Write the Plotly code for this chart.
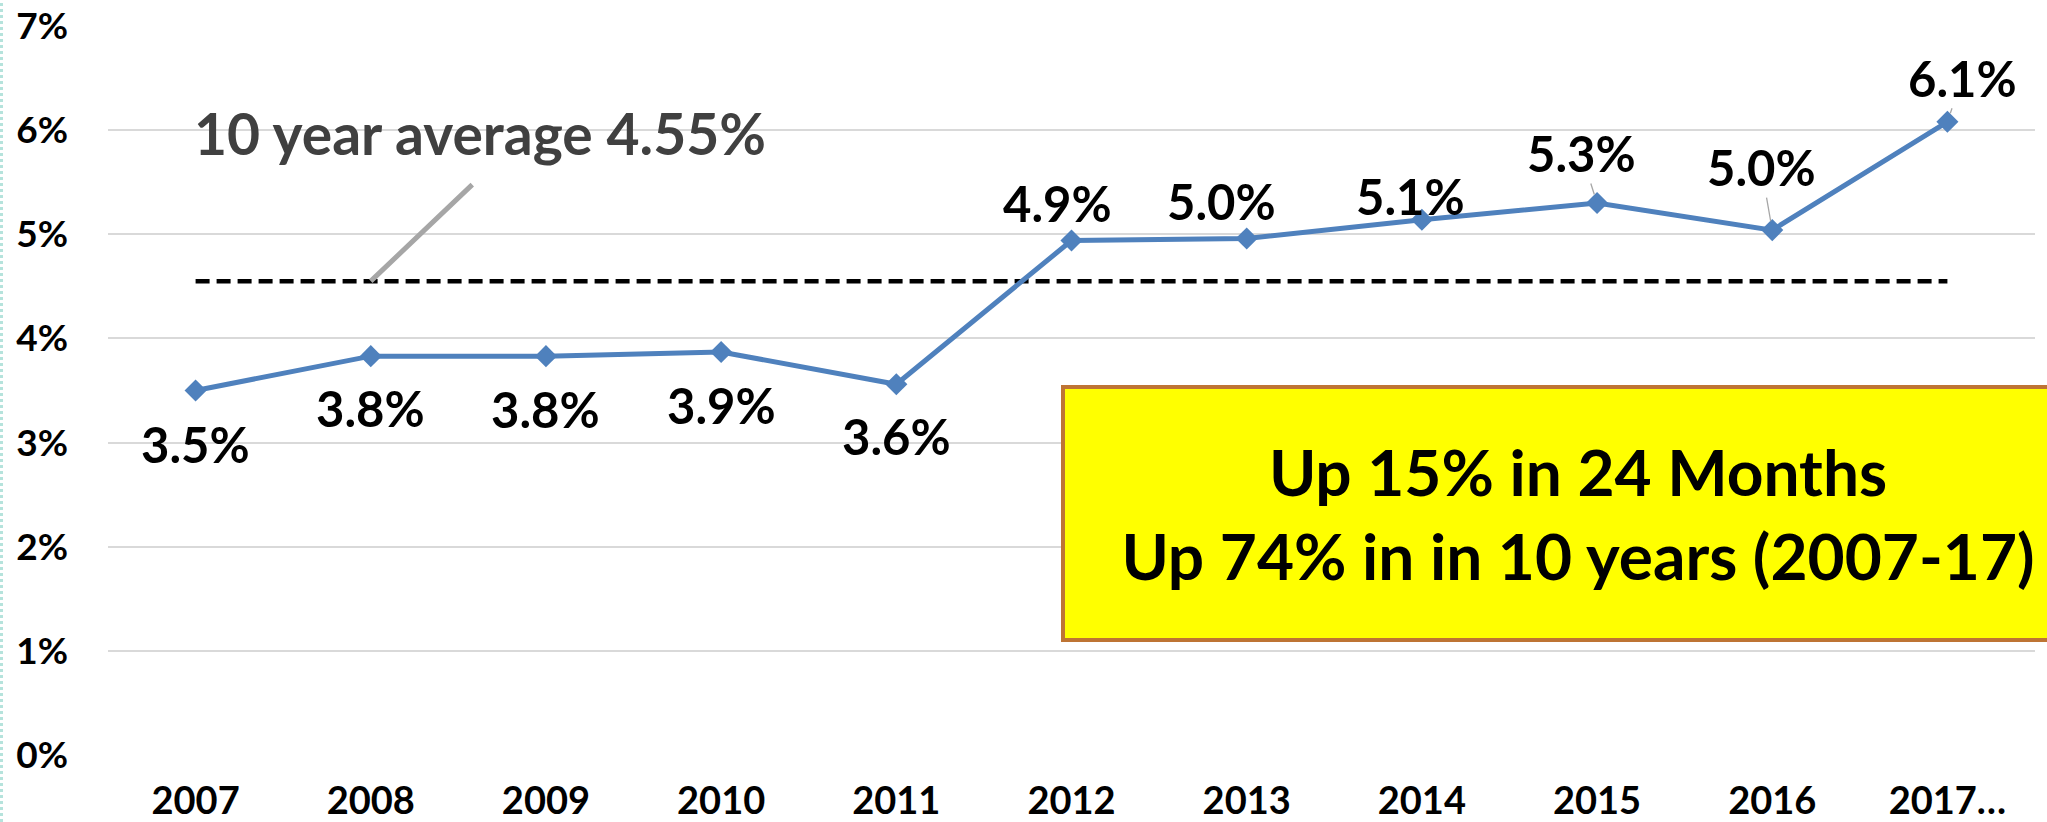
import plotly.graph_objects as go

# ---- data ----
years = ["2007", "2008", "2009", "2010", "2011", "2012", "2013", "2014", "2015", "2016", "2017…"]
rate = [3.50, 3.83, 3.83, 3.87, 3.56, 4.94, 4.96, 5.14, 5.30, 5.04, 6.08]
avg_value = 4.55
avg_text = "10 year average 4.55%"
box_lines = ["Up 15% in 24 Months", "Up 74% in in 10 years (2007-17)"]
y_ticks = [0, 1, 2, 3, 4, 5, 6, 7]
y_tick_labels = ["0%", "1%", "2%", "3%", "4%", "5%", "6%", "7%"]

# label placement (pixel offsets from each point) and leader-line flags
label_dx = [0, 0, 0, 0, 0, -14, -25, -11, -16, -11, 15]
label_dy = [53, 52, 53, 53, 52, -38, -37, -24, -50, -63, -44]
leader = [False, False, False, False, False, False, False, False, True, True, True]

W, H = 2047, 822
ML, MR, MT, MB = 108, 12, 26, 67
FONT = "Lato"

x_idx = list(range(len(years)))

fig = go.Figure()

fig.add_trace(go.Scatter(
    x=x_idx, y=[avg_value] * len(years), mode="lines",
    line=dict(color="#000000", width=4.5, dash="14px,7px"),
    hoverinfo="skip", showlegend=False,
))

fig.add_trace(go.Scatter(
    x=x_idx, y=rate, mode="lines+markers",
    line=dict(color="#4F81BD", width=5),
    marker=dict(symbol="diamond", size=17, color="#4F81BD"),
    showlegend=False,
))

for i, (v, dx, dy, ld) in enumerate(zip(rate, label_dx, label_dy, leader)):
    fig.add_annotation(
        x=i, y=v, xref="x", yref="y", text=f"{v:.1f}%",
        showarrow=True, ax=dx, ay=dy, arrowhead=0, arrowwidth=1.3,
        arrowcolor="#A6A6A6" if ld else "rgba(0,0,0,0)", standoff=9,
        font=dict(family=FONT, size=49, color="#000000", weight="bold"),
    )

# average callout label
fig.add_annotation(
    x=0, y=avg_value, xref="x", yref="y", text=avg_text, showarrow=False,
    xanchor="left", yanchor="middle", yshift=148, xshift=-4,
    font=dict(family=FONT, size=57, color="#404040", weight="bold"),
)
# average callout connector
fig.add_annotation(
    x=1, y=avg_value, xref="x", yref="y", text="", showarrow=True,
    ax=103, ay=-98, arrowhead=0, arrowwidth=5, arrowcolor="#A6A6A6", standoff=0,
)

# yellow box
fig.add_annotation(
    x=(1578 - ML) / (W - ML - MR), y=(H - MB - 513.5) / (H - MT - MB),
    xref="paper", yref="paper", xanchor="center", yanchor="middle",
    text="<br>".join(box_lines), showarrow=False, align="center", valign="middle",
    bgcolor="#FFFF00", bordercolor="#BE7434", borderwidth=4, borderpad=0,
    width=1026, height=249,
    font=dict(family=FONT, size=64, color="#000000", weight="bold"),
)

fig.update_layout(
    width=W, height=H,
    margin=dict(l=ML, r=MR, t=MT, b=MB, autoexpand=False),
    paper_bgcolor="#FFFFFF", plot_bgcolor="#FFFFFF",
    xaxis=dict(
        range=[-0.5, len(years) - 0.5], tickmode="array", tickvals=x_idx, ticktext=years,
        showgrid=False, zeroline=False, showline=False, ticks="",
        tickfont=dict(family=FONT, size=38, color="#000000", weight="bold"),
        ticklabelstandoff=20, automargin=False, fixedrange=True,
    ),
    yaxis=dict(
        range=[0, 7], tickmode="array", tickvals=y_ticks, ticktext=y_tick_labels,
        showgrid=True, gridcolor="#D9D9D9", gridwidth=1.5, zeroline=False, showline=False,
        ticks="", tickfont=dict(family=FONT, size=37, color="#000000", weight="bold"),
        ticklabelstandoff=39, automargin=False, fixedrange=True,
    ),
    shapes=[dict(
        type="line", xref="paper", yref="paper",
        x0=-(ML - 1.5) / (W - ML - MR), x1=-(ML - 1.5) / (W - ML - MR),
        y0=-MB / (H - MT - MB), y1=1 + MT / (H - MT - MB),
        line=dict(color="#B5E3DC", width=3, dash="dot"),
    )],
)

fig.write_html(
    "out.html",
    config={"displayModeBar": False},
    post_script="document.body.style.margin='0px';document.body.style.overflow='hidden';",
)
